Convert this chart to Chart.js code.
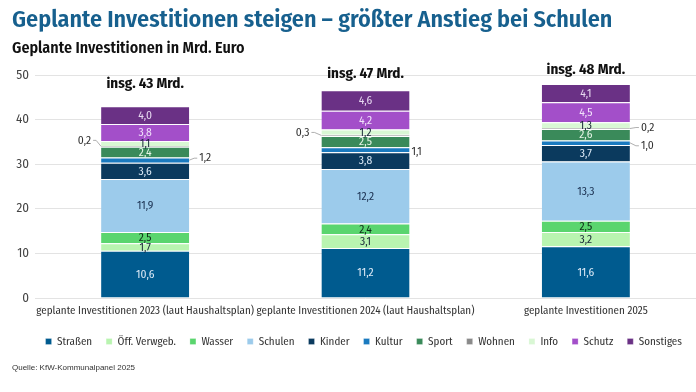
<!DOCTYPE html>
<html>
<head>
<meta charset="utf-8">
<script src="https://cdn.jsdelivr.net/npm/chart.js@4.4.1/dist/chart.umd.min.js"></script>
<style>
  html, body { margin: 0; padding: 0; background: #ffffff; }
  #wrap { position: relative; width: 696px; height: 392px; overflow: hidden; background: #fff; }
  #c { position: absolute; left: 0; top: 0; }
  .txt { position: absolute; white-space: nowrap; }
  #title { left: 12px; top: 5px; font: 600 24px 'Fira Sans Condensed', 'Liberation Sans', Arial, sans-serif; color: #17608e; }
  #subtitle { left: 12px; top: 38px; font: 600 16px 'Fira Sans Condensed', 'Liberation Sans', Arial, sans-serif; color: #111; }
  #source { left: 12px; top: 363px; font: 8px 'Liberation Sans', Arial, sans-serif; color: #333; }
</style>
</head>
<body>
<div id="wrap">
  <canvas id="c" width="696" height="392"></canvas>
  <div class="txt" id="title">Geplante Investitionen steigen – größter Anstieg bei Schulen</div>
  <div class="txt" id="subtitle">Geplante Investitionen in Mrd. Euro</div>
  <div class="txt" id="source">Quelle: KfW-Kommunalpanel 2025</div>
</div>
<script>
// ---- data ----
const categories = [
  'geplante Investitionen 2023 (laut Haushaltsplan)',
  'geplante Investitionen 2024 (laut Haushaltsplan)',
  'geplante Investitionen 2025'
];
const totalLabels = ['insg. 43 Mrd.', 'insg. 47 Mrd.', 'insg. 48 Mrd.'];
const seriesNames = ['Straßen', 'Öff. Verwgeb.', 'Wasser', 'Schulen', 'Kinder', 'Kultur', 'Sport', 'Wohnen', 'Info', 'Schutz', 'Sonstiges'];
const strassen   = [10.6, 11.2, 11.6];
const oeffVerw   = [1.7, 3.1, 3.2];
const wasser     = [2.5, 2.4, 2.5];
const schulen    = [11.9, 12.2, 13.3];
const kinder     = [3.6, 3.8, 3.7];
const kultur     = [1.2, 1.1, 1.0];
const sport      = [2.4, 2.5, 2.6];
const wohnen     = [0.2, 0.3, 0.2];
const info       = [1.1, 1.2, 1.3];
const schutz     = [3.8, 4.2, 4.5];
const sonstiges  = [4.0, 4.6, 4.1];
const yTicks     = [0, 10, 20, 30, 40, 50];

// ---- styles ----
const FONT = "'Fira Sans Condensed', 'Liberation Sans', Arial, sans-serif";
const colors = ['#005b8f', '#b9f4b0', '#5ad56e', '#9ccbeb', '#0b3a5e', '#1a7abf', '#3a8a5a', '#8a8a8a', '#d9f7d4', '#a34fc9', '#6a3185'];
const labelColors = ['#dbe9f6', '#1a2a3a', '#10301a', '#1a3050', '#dbe9f6', '#ffffff', '#e6f5e6', '#333', '#1a2a3a', '#f0e0fa', '#e6d8f0'];
// outside labels (dataset index -> per-category side, vertical shift, gap, leader line)
const outside = {
  7: { side: ['left', 'left', 'right'], dy: [-6, -3, -1], gap: [10, 12, 11], line: [true, true, true] },
  5: { side: ['right', 'right', 'right'], dy: [-2, 2, 3], gap: [10, 2, 11], line: [true, false, true] }
};
const totalOffset = [22, 16, 14];

const seriesData = [strassen, oeffVerw, wasser, schulen, kinder, kultur, sport, wohnen, info, schutz, sonstiges];
const fmt = v => v.toFixed(1).replace('.', ',');

const labelPlugin = {
  id: 'segLabels',
  afterDatasetsDraw(chart) {
    const ctx = chart.ctx;
    ctx.save();
    ctx.font = '11.5px ' + FONT;
    ctx.textBaseline = 'middle';
    chart.data.datasets.forEach((ds, i) => {
      const meta = chart.getDatasetMeta(i);
      meta.data.forEach((bar, j) => {
        const v = ds.data[j];
        const cy = (bar.y + bar.base) / 2;
        const o = outside[i];
        if (o) {
          const left = bar.x - bar.width / 2, right = bar.x + bar.width / 2;
          const ly = cy + o.dy[j];
          ctx.fillStyle = '#333';
          ctx.strokeStyle = '#9a9a9a';
          ctx.lineWidth = 0.8;
          if (o.side[j] === 'left') {
            const tx = left - o.gap[j];
            ctx.textAlign = 'right';
            ctx.fillText(fmt(v), tx, ly);
            if (o.line[j]) {
              ctx.beginPath(); ctx.moveTo(tx + 2, ly); ctx.lineTo(tx + 5, ly); ctx.lineTo(left, cy); ctx.stroke();
            }
          } else {
            const tx = right + o.gap[j];
            ctx.textAlign = 'left';
            ctx.fillText(fmt(v), tx, ly);
            if (o.line[j]) {
              ctx.beginPath(); ctx.moveTo(right, cy); ctx.lineTo(tx - 5, ly); ctx.lineTo(tx - 2, ly); ctx.stroke();
            }
          }
        } else {
          ctx.fillStyle = labelColors[i];
          ctx.textAlign = 'center';
          ctx.fillText(fmt(v), bar.x, cy + 0.5);
        }
      });
    });
    // totals
    const last = chart.getDatasetMeta(chart.data.datasets.length - 1);
    ctx.font = 'bold 15px ' + FONT;
    ctx.fillStyle = '#111';
    ctx.textAlign = 'center';
    last.data.forEach((bar, j) => {
      ctx.fillText(totalLabels[j], bar.x, bar.y - totalOffset[j]);
    });
    ctx.restore();
  }
};

new Chart(document.getElementById('c'), {
  type: 'bar',
  data: {
    labels: categories,
    datasets: seriesNames.map((n, i) => ({
      label: n,
      data: seriesData[i],
      backgroundColor: colors[i],
      borderColor: '#ffffff',
      borderWidth: { top: 1, bottom: 0, left: 0, right: 0 },
      borderSkipped: false,
      barPercentage: 0.4,
      categoryPercentage: 1.0
    }))
  },
  options: {
    responsive: false,
    animation: false,
    devicePixelRatio: 1,
    layout: { padding: { top: 75, left: 0, right: 0, bottom: 35 } },
    plugins: {
      title: { display: false },
      tooltip: { enabled: false },
      legend: {
        position: 'bottom',
        align: 'end',
        labels: {
          boxWidth: 6, boxHeight: 6, padding: 14,
          color: '#333',
          font: { family: FONT, size: 11 }
        }
      }
    },
    scales: {
      x: {
        stacked: true,
        grid: { display: false, drawTicks: false },
        border: { display: false },
        ticks: { color: '#333', font: { family: FONT, size: 11 }, padding: 6, maxRotation: 0, autoSkip: false },
        afterFit(s) { s.height = 24; }
      },
      y: {
        stacked: true,
        min: 0, max: 50,
        afterBuildTicks(s) { s.ticks = yTicks.map(v => ({ value: v })); },
        grid: { color: '#e3e3e3', lineWidth: 1, drawTicks: false },
        border: { display: false },
        ticks: { color: '#444', font: { family: FONT, size: 13 }, padding: 6 },
        afterFit(s) { s.width = 35; }
      }
    }
  },
  plugins: [labelPlugin]
});
</script>
</body>
</html>
